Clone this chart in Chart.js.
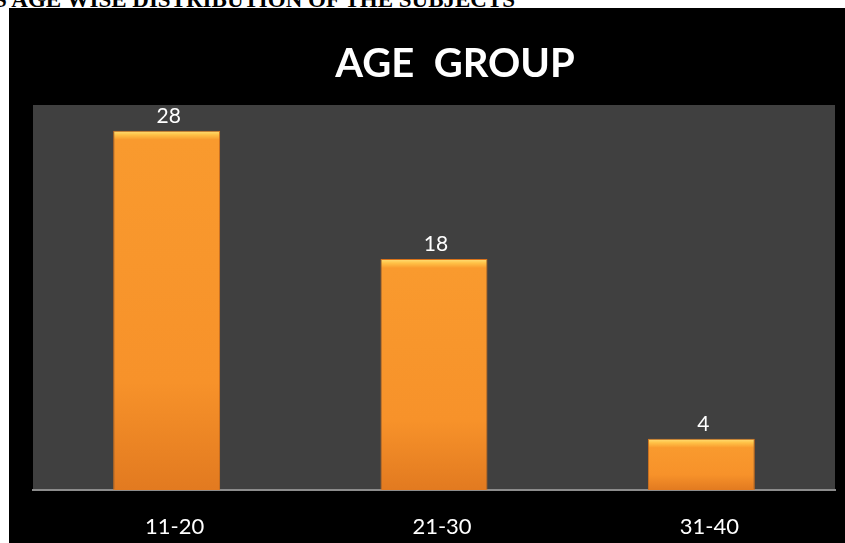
<!DOCTYPE html>
<html>
<head>
<meta charset="utf-8">
<script src="https://cdn.jsdelivr.net/npm/chart.js@4.4.0/dist/chart.umd.min.js"></script>
<style>
  body { margin: 0; background: #fff; width: 845px; height: 543px; overflow: hidden; position: relative; }
  #cabecera {
    position: absolute; left: -6px; top: -12px; white-space: nowrap;
    font: bold 23px "Liberation Serif", "Times New Roman", serif; color: #000; line-height: 23px;
  }
  #caja { position: absolute; left: 9px; top: 8px; width: 836px; height: 535px; background: #000; }
</style>
</head>
<body>
<div id="cabecera">S AGE WISE DISTRIBUTION OF THE SUBJECTS</div>
<div id="caja"><canvas id="grafico" width="836" height="535"></canvas></div>
<script>
// Datos del gráfico
const titulo = 'AGE  GROUP';
const grupos = ['11-20', '21-30', '31-40'];
const sujetos = [28, 18, 4];

const ctx = document.getElementById('grafico').getContext('2d');

// Fondo gris del área de trazado
const fondoPlugin = {
  id: 'fondo',
  beforeDraw(chart) {
    const a = chart.chartArea;
    const c = chart.ctx;
    c.save();
    c.fillStyle = '#404040';
    c.fillRect(a.left, a.top, a.right - a.left, a.bottom - a.top);
    c.restore();
  }
};

// Título y etiquetas de valores
const textosPlugin = {
  id: 'textos',
  afterDraw(chart) {
    const c = chart.ctx;
    const a = chart.chartArea;
    c.save();
    c.fillStyle = '#fff';
    c.textAlign = 'center';
    c.textBaseline = 'alphabetic';
    c.font = 'bold 40px Lato, "Open Sans", sans-serif';
    c.fillText(titulo, (a.left + a.right) / 2 + 21, 69);

    c.font = '21px Lato, "Open Sans", sans-serif';
    chart.getDatasetMeta(0).data.forEach((bar, i) => {
      c.fillText(sujetos[i], bar.x + 2, bar.y - 8);
    });
    c.restore();
  }
};

// Degradado naranja de las barras
function colorBarra(context) {
  const chart = context.chart;
  const a = chart.chartArea;
  if (!a) return '#F7942B';
  const y = chart.scales.y;
  const top = y.getPixelForValue(context.raw);
  const base = y.getPixelForValue(0);
  const h = Math.max(base - top, 1);
  const g = chart.ctx.createLinearGradient(0, top, 0, base);
  g.addColorStop(0, '#FFE27A');
  g.addColorStop(Math.min(4 / h, 1), '#FFC247');
  g.addColorStop(Math.min(9 / h, 1), '#F99A2E');
  g.addColorStop(0.7, '#F7922A');
  g.addColorStop(1, '#E27A20');
  return g;
}

new Chart(ctx, {
  type: 'bar',
  data: {
    labels: grupos,
    datasets: [{
      label: 'Age group',
      data: sujetos,
      backgroundColor: colorBarra,
      borderColor: '#D8721A',
      borderWidth: 1,
      barPercentage: 0.4,
      categoryPercentage: 1
    }]
  },
  options: {
    responsive: false,
    animation: false,
    layout: { padding: { left: 24, right: 10, top: 97, bottom: 0 } },
    plugins: {
      legend: { display: false },
      title: { display: false },
      tooltip: { enabled: false }
    },
    scales: {
      x: {
        grid: { display: false, drawTicks: false },
        border: { display: true, color: '#8c8c8c', width: 2 },
        afterFit(scale) { scale.height = 53; },
        ticks: {
          color: '#fff',
          padding: 24,
          labelOffset: 8,
          font: { family: 'Lato, "Open Sans", sans-serif', size: 22 }
        }
      },
      y: {
        display: false,
        min: 0,
        max: 30
      }
    }
  },
  plugins: [fondoPlugin, textosPlugin]
});
</script>
</body>
</html>
